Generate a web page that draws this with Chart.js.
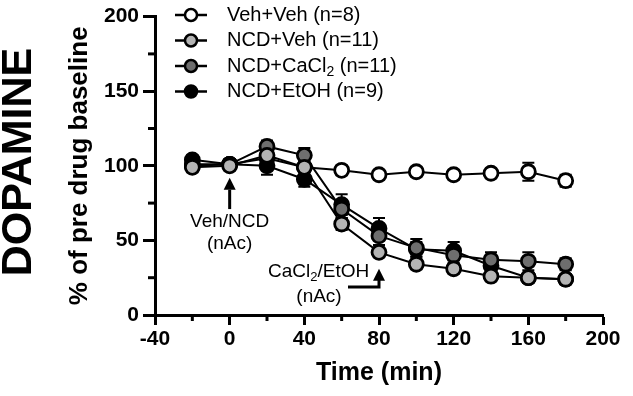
<!DOCTYPE html>
<html>
<head>
<meta charset="utf-8">
<script src="https://cdn.jsdelivr.net/npm/chart.js@4"></script>
<style>
  html, body { margin: 0; padding: 0; background: #fff; }
  #wrap { width: 633px; height: 396px; position: relative; }
</style>
</head>
<body>
<div id="wrap"><canvas id="chart" width="633" height="396"></canvas></div>
<script>
// time points (min) and group means / SEM (% of pre drug baseline)
const times = [-20, 0, 20, 40, 60, 80, 100, 120, 140, 160, 180];

const vehVeh = [101, 101, 105, 99, 97, 94, 96, 94, 95, 96, 90];
const ncdVeh = [99, 100, 107, 99, 61, 42, 34, 31, 26, 25, 24];
const ncdCaCl2 = [100, 101, 113, 107, 71, 53, 45, 40, 37, 36, 34];
const ncdEtOH = [104, 101, 100, 91, 74, 58, 44, 43, 33, 25, 24];

const vehVehErr = [3, 3, 4, 3, 3, 3, 3, 3, 3, 6, 4];
const ncdVehErr = [3, 3, 4, 3, 4, 3, 3, 3, 3, 3, 3];
const ncdCaCl2Err = [3, 3, 4, 5, 6, 6, 6, 5, 5, 6, 4];
const ncdEtOHErr = [3, 3, 6, 5, 7, 7, 5, 6, 4, 3, 3];

const groupNames = ["Veh+Veh (n=8)", "NCD+Veh (n=11)", "NCD+CaCl2 (n=11)", "NCD+EtOH (n=9)"];
const groupColors = ["#ffffff", "#b4b4b4", "#6e6e6e", "#000000"];

const xTicksMinor = [-20, 20, 60, 100, 140, 180];
const yTicksMinor = [25, 75, 125, 175];

const FONT = "Arial, 'Liberation Sans', Helvetica, sans-serif";

function pts(vals) {
  return vals.map((v, i) => ({ x: times[i], y: v }));
}

function makeSet(i, vals, errs, order) {
  return {
    label: groupNames[i],
    data: pts(vals),
    errors: errs,
    borderColor: "#000",
    borderWidth: 2,
    backgroundColor: groupColors[i],
    pointBackgroundColor: groupColors[i],
    pointBorderColor: "#000",
    pointBorderWidth: 2.8,
    pointRadius: 7,
    pointHoverRadius: 7,
    showLine: true,
    order: order
  };
}

// error bars under the points
const errorBars = {
  id: "errorBars",
  beforeDatasetsDraw(chart) {
    const ctx = chart.ctx;
    const xs = chart.scales.x, ys = chart.scales.y;
    ctx.save();
    ctx.strokeStyle = "#000";
    ctx.lineWidth = 2;
    chart.data.datasets.forEach(ds => {
      ds.data.forEach((p, i) => {
        const e = ds.errors[i];
        const px = xs.getPixelForValue(p.x);
        const top = ys.getPixelForValue(p.y + e);
        const bot = ys.getPixelForValue(p.y - e);
        ctx.beginPath();
        ctx.moveTo(px, top); ctx.lineTo(px, bot);
        ctx.moveTo(px - 6, top); ctx.lineTo(px + 6, top);
        ctx.moveTo(px - 6, bot); ctx.lineTo(px + 6, bot);
        ctx.stroke();
      });
    });
    ctx.restore();
  }
};

// minor ticks, legend, annotations, big side label
const extras = {
  id: "extras",
  afterDraw(chart) {
    const ctx = chart.ctx;
    const xs = chart.scales.x, ys = chart.scales.y;
    const area = chart.chartArea;
    ctx.save();
    ctx.strokeStyle = "#000";
    ctx.fillStyle = "#000";
    ctx.lineWidth = 3;
    ctx.lineCap = "butt";

    yTicksMinor.forEach(v => {
      const py = ys.getPixelForValue(v);
      ctx.beginPath();
      ctx.moveTo(area.left - 7, py); ctx.lineTo(area.left, py);
      ctx.stroke();
    });
    xTicksMinor.forEach(v => {
      const px = xs.getPixelForValue(v);
      ctx.beginPath();
      ctx.moveTo(px, area.bottom); ctx.lineTo(px, area.bottom + 6);
      ctx.stroke();
    });

    // legend
    ctx.textBaseline = "middle";
    ctx.textAlign = "left";
    groupNames.forEach((name, i) => {
      const y = 15 + i * 25.5;
      ctx.lineWidth = 2.5;
      ctx.beginPath();
      ctx.moveTo(175, y); ctx.lineTo(207, y);
      ctx.stroke();
      ctx.beginPath();
      ctx.arc(191, y, 6, 0, Math.PI * 2);
      ctx.fillStyle = groupColors[i];
      ctx.fill();
      ctx.stroke();
      ctx.fillStyle = "#000";
      ctx.font = "20px " + FONT;
      const tx0 = 227;
      if (name.indexOf("CaCl2") >= 0) {
        let x = tx0;
        const a = "NCD+CaCl";
        ctx.fillText(a, x, y);
        x += ctx.measureText(a).width;
        ctx.font = "14px " + FONT;
        ctx.fillText("2", x, y + 6);
        x += ctx.measureText("2").width;
        ctx.font = "20px " + FONT;
        ctx.fillText(" (n=11)", x, y);
      } else {
        ctx.fillText(name, tx0, y);
      }
    });

    // Veh/NCD arrow at t = 0
    const x0 = xs.getPixelForValue(0);
    ctx.lineWidth = 3;
    ctx.beginPath();
    ctx.moveTo(x0, ys.getPixelForValue(71)); ctx.lineTo(x0, ys.getPixelForValue(84));
    ctx.stroke();
    ctx.beginPath();
    const tip0 = ys.getPixelForValue(92);
    ctx.moveTo(x0, tip0); ctx.lineTo(x0 - 6, tip0 + 12); ctx.lineTo(x0 + 6, tip0 + 12);
    ctx.closePath(); ctx.fill();
    ctx.font = "19px " + FONT;
    ctx.textAlign = "center";
    ctx.fillText("Veh/NCD", x0, 222);
    ctx.fillText("(nAc)", x0, 244);

    // CaCl2/EtOH bent arrow at t = 80
    const x80 = xs.getPixelForValue(80);
    const tip80 = ys.getPixelForValue(31);
    ctx.beginPath();
    ctx.moveTo(348, 287); ctx.lineTo(x80, 287); ctx.lineTo(x80, tip80 + 10);
    ctx.stroke();
    ctx.beginPath();
    ctx.moveTo(x80, tip80); ctx.lineTo(x80 - 6, tip80 + 12); ctx.lineTo(x80 + 6, tip80 + 12);
    ctx.closePath(); ctx.fill();
    ctx.textAlign = "left";
    let tx = 268;
    ctx.fillText("CaCl", tx, 272);
    tx += ctx.measureText("CaCl").width;
    ctx.font = "13px " + FONT;
    ctx.fillText("2", tx, 277);
    tx += ctx.measureText("2").width;
    ctx.font = "19px " + FONT;
    ctx.fillText("/EtOH", tx, 272);
    ctx.textAlign = "center";
    ctx.fillText("(nAc)", 319, 297);

    // side label
    ctx.translate(19, 162);
    ctx.rotate(-Math.PI / 2);
    ctx.font = "bold 43px " + FONT;
    ctx.textAlign = "center";
    ctx.fillText("DOPAMINE", 0, 0);
    ctx.restore();
  }
};

new Chart(document.getElementById("chart"), {
  type: "scatter",
  data: {
    datasets: [
      makeSet(0, vehVeh, vehVehErr, 3),
      makeSet(1, ncdVeh, ncdVehErr, 0),
      makeSet(2, ncdCaCl2, ncdCaCl2Err, 1),
      makeSet(3, ncdEtOH, ncdEtOHErr, 2)
    ]
  },
  options: {
    responsive: false,
    animation: false,
    layout: { padding: { top: 12, right: 30, left: 0, bottom: 0 } },
    plugins: { legend: { display: false }, tooltip: { enabled: false } },
    scales: {
      x: {
        type: "linear",
        min: -40, max: 200,
        afterFit(scale) { scale.height = 81; },
        ticks: {
          stepSize: 40,
          color: "#000",
          padding: 2,
          font: { family: FONT, size: 21, weight: "bold" }
        },
        grid: { drawOnChartArea: false, drawTicks: true, tickLength: 10, tickWidth: 3, tickColor: "#000" },
        border: { display: true, width: 3, color: "#000" },
        title: {
          display: true,
          text: "Time (min)",
          color: "#000",
          padding: { top: 0, bottom: 8 },
          font: { family: FONT, size: 25, weight: "bold" }
        }
      },
      y: {
        min: 0, max: 200,
        afterFit(scale) { scale.width = 155; },
        ticks: {
          stepSize: 50,
          color: "#000",
          padding: 4,
          font: { family: FONT, size: 21, weight: "bold" }
        },
        grid: { drawOnChartArea: false, drawTicks: true, tickLength: 12, tickWidth: 3, tickColor: "#000" },
        border: { display: true, width: 3, color: "#000" },
        title: {
          display: true,
          text: "% of pre drug baseline",
          color: "#000",
          padding: { top: 64, bottom: 0 },
          font: { family: FONT, size: 26, weight: "bold" }
        }
      }
    }
  },
  plugins: [errorBars, extras]
});
</script>
</body>
</html>
